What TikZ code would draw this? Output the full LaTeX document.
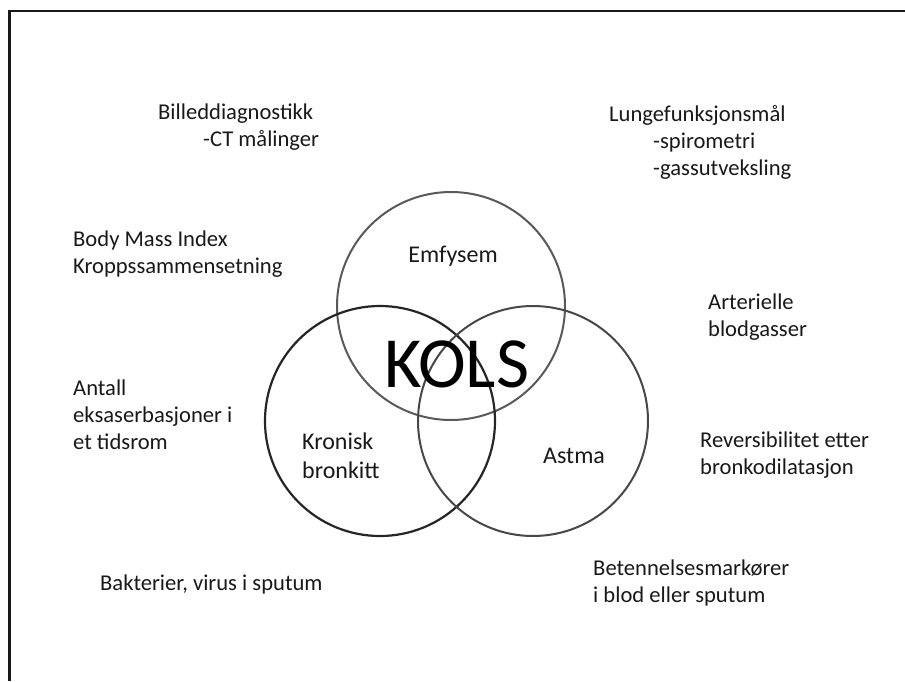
\documentclass[tikz,border=0pt]{standalone}
\usepackage{fontspec}
\setmainfont{Carlito}
\newcommand{\txtlines}[1]{\begin{tabular}[t]{@{}l@{}}#1\end{tabular}}
\begin{document}
\begin{tikzpicture}[x=1pt,y=-1pt,
  note/.style={inner sep=0pt, anchor=base west, text=black!90,
    font=\fontsize{22.6}{27}\selectfont},
  label/.style={inner sep=0pt, text=black!90,
    font=\fontsize{24}{29}\selectfont},
  ring/.style={circle, draw, line width=2pt, minimum size=#1, inner sep=0pt},
]
\useasboundingbox (0,0) rectangle (905,681);
\fill[white] (0,0) rectangle (905,681);

% open frame: left and top edges only
\coordinate (fbl) at (9.5,681);
\coordinate (ftl) at (9.5,11);
\coordinate (ftr) at (905,11);
\draw[line width=2.3pt, black!90] (fbl) -- (ftl) -- (ftr);

% the three overlapping circles
\node[ring=228pt, draw=black!65] (emfysem) at (451,306) {};
\node[ring=230pt, draw=black!85, line width=2.2pt] (bronkitt) at (380,421) {};
\node[ring=230pt, draw=black!72] (astma) at (533,421) {};

% circle labels
\node[label, anchor=base] (lemf) at (453,262) {Emfysem};
\node[label, anchor=base west] (lkron) at (302,449) {\fontsize{24}{29}\selectfont\txtlines{Kronisk\\bronkitt}};
\node[label, anchor=base west] (last) at (543,463) {Astma};
\node[inner sep=0pt, anchor=base west, text=black, font=\fontsize{72}{82}\selectfont] (kols) at (384,387) {KOLS};

% surrounding measures
\node[note] (bild) at (158,119) {\txtlines{Billeddiagnostikk\\\hspace*{45pt}-CT målinger}};
\node[note] (lunge) at (609,121) {\txtlines{Lungefunksjonsmål\\\hspace*{44pt}-spirometri\\\hspace*{44pt}-gassutveksling}};
\node[note] (bmi) at (73,246) {\txtlines{Body Mass Index\\Kroppssammensetning}};
\node[note] (blodg) at (708,309) {\txtlines{Arterielle\\blodgasser}};
\node[note] (eksa) at (73,395) {\txtlines{Antall\\eksaserbasjoner i\\et tidsrom}};
\node[note] (revers) at (700,447) {\txtlines{Reversibilitet etter\\bronkodilatasjon}};
\node[note] (bakt) at (100,590) {Bakterier, virus i sputum};
\node[note] (beten) at (593,575) {\txtlines{Betennelsesmarkører\\i blod eller sputum}};
\end{tikzpicture}
\end{document}
